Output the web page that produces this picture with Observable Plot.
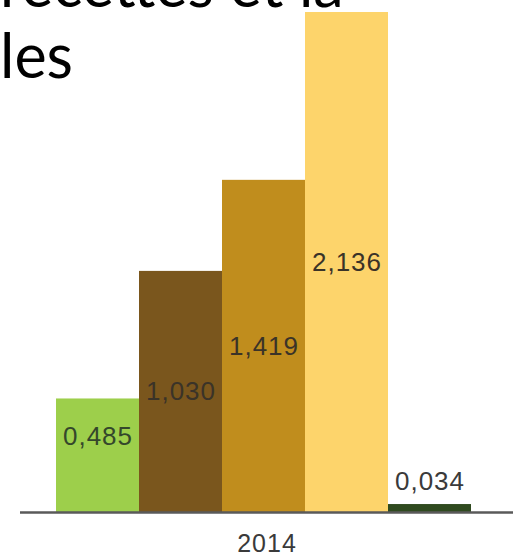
<!DOCTYPE html>
<html>
<head>
<meta charset="utf-8">
<script src="https://cdn.jsdelivr.net/npm/d3@7"></script>
<script src="https://cdn.jsdelivr.net/npm/@observablehq/plot@0.6"></script>
<style>
  html, body { margin: 0; padding: 0; background: #fff; }
  #wrap { position: relative; width: 513px; height: 555px; overflow: hidden; }
  .ttl { position: absolute; left: 0; font-family: Lato, "Open Sans", sans-serif; font-size: 61px; line-height: 61px; color: #000; white-space: nowrap; }
  #chart { position: absolute; left: 0; top: 0; }
</style>
</head>
<body>
<div id="wrap">
  <div id="chart"></div>
  <div class="ttl" id="t1" style="top:-47px">recettes et la</div>
  <div class="ttl" id="t2" style="top:24px">les</div>
</div>
<script>
const year = "2014";
const categories = ["A", "B", "C", "D", "E"];
const values = [0.485, 1.030, 1.419, 2.136, 0.034];
const labels = ["0,485", "1,030", "1,419", "2,136", "0,034"];
const colors = ["#9dcf4b", "#7a561d", "#c08d1d", "#fdd46b", "#2f4a1f"];
const labelColors = ["#34472b", "#3a3328", "#3a3328", "#3a3328", "#3a3a3a"];

const data = categories.map((c, i) => ({cat: c, value: values[i], label: labels[i], lc: labelColors[i], year}));

const font = "Liberation Sans, Arial, Helvetica, sans-serif";

const chart = Plot.plot({
  width: 513,
  height: 555,
  marginTop: 12,
  marginBottom: 43,
  marginLeft: 20,
  marginRight: 0,
  style: {background: "transparent", fontFamily: font, letterSpacing: "1px"},
  fx: {padding: 0, axis: null},
  x: {domain: categories, paddingInner: 0, paddingOuter: 0.449, align: 0.467, axis: null},
  y: {domain: [0, d3.max(values)], axis: null},
  color: {domain: categories, range: colors},
  marks: [
    Plot.barY(data, {fx: "year", x: "cat", y: "value", fill: "cat"}),
    Plot.text(data.filter((d, i) => i >= 1 && i <= 3), {
      fx: "year", x: "cat", y: d => d.value / 2, text: "label",
      fill: "lc", fontSize: 26, fontFamily: font
    }),
    Plot.text(data.filter((d, i) => i === 0), {
      fx: "year", x: "cat", y: d => d.value / 2, text: "label", dy: -19,
      fill: "lc", fontSize: 26, fontFamily: font
    }),
    Plot.text(data.filter((d, i) => i === 4), {
      fx: "year", x: "cat", y: "value", text: "label", dy: -23,
      fill: "lc", fontSize: 26, fontFamily: font
    }),
    Plot.ruleY([0], {stroke: "#5a5a5a", strokeWidth: 2.5}),
    Plot.axisFx({anchor: "bottom", tickSize: 0, tickPadding: 22, fontSize: 25, fill: "#3a3a3a", label: null, fontFamily: font})
  ]
});
document.getElementById("chart").appendChild(chart);
</script>
</body>
</html>
